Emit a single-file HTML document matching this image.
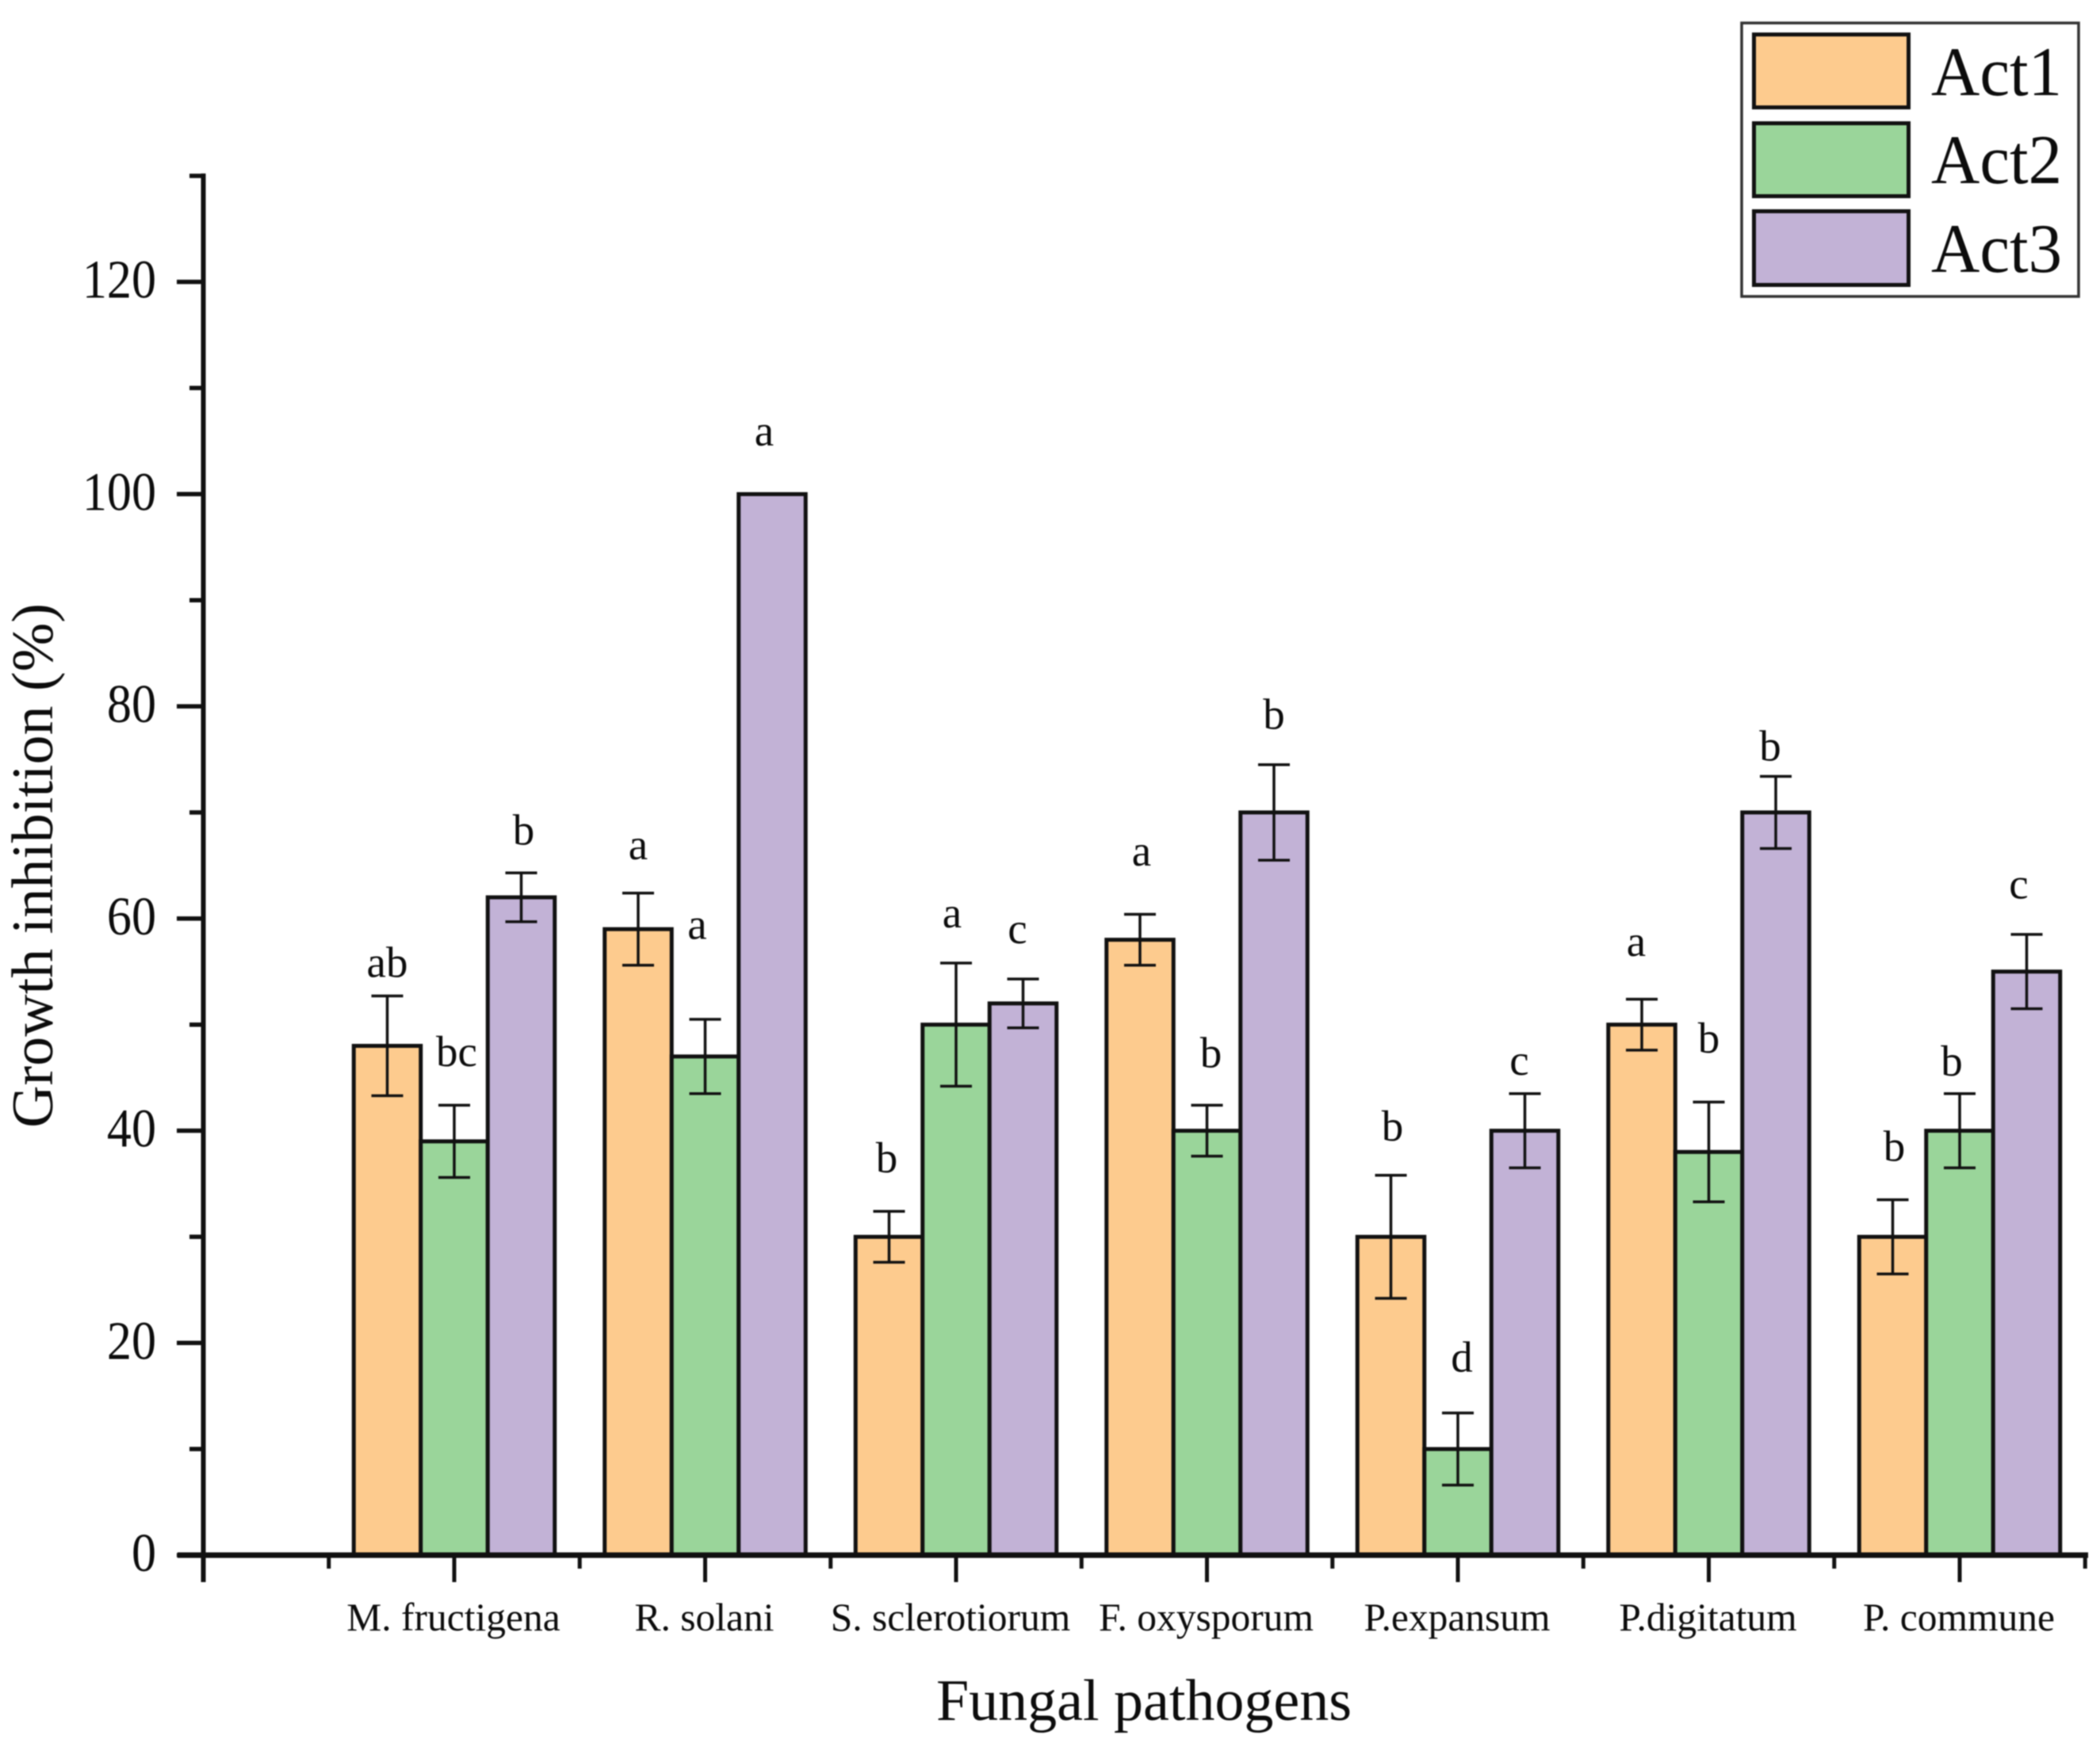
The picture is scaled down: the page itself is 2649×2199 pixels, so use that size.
<!DOCTYPE html>
<html lang="en">
<head>
<meta charset="utf-8">
<title>Growth inhibition of fungal pathogens</title>
<style>
html,body{margin:0;padding:0;background:#fff;width:2649px;height:2199px;overflow:hidden}
svg{display:block;font-family:"Liberation Serif",serif;fill:#0c0c0c;filter:blur(0.7px)}
</style>
</head>
<body>
<svg id="chart" xmlns="http://www.w3.org/2000/svg" width="2649" height="2199" viewBox="0 0 2649 2199">
  <rect width="2649" height="2199" fill="#fff"/>
  <g id="bars"></g>
  <g id="errors"></g>
  <g id="letters"></g>
  <g id="axes"></g>
  <text x="1443" y="2170" font-size="74" text-anchor="middle">Fungal pathogens</text>
  <text transform="translate(66,1092) rotate(-90)" font-size="74" text-anchor="middle">Growth inhibition (%)</text>
  <g>
    <rect x="2197" y="29" width="425" height="345" fill="#fff" stroke="#333" stroke-width="3.5"/>
    <rect x="2212.5" y="43.5" width="195" height="92" fill="#FDCB8E" stroke="#111" stroke-width="5"/>
    <rect x="2212.5" y="155.5" width="195" height="92" fill="#9AD59A" stroke="#111" stroke-width="5"/>
    <rect x="2212.5" y="266.5" width="195" height="93" fill="#C2B2D6" stroke="#111" stroke-width="5"/>
    <text transform="translate(2436,120) scale(0.965,1)" font-size="88">Act1</text>
    <text transform="translate(2436,231) scale(0.965,1)" font-size="88">Act2</text>
    <text transform="translate(2436,343) scale(0.965,1)" font-size="88">Act3</text>
  </g>
</svg>
<script>
const categories = ["M. fructigena", "R. solani", "S. sclerotiorum", "F. oxysporum", "P.expansum", "P.digitatum", "P. commune"];
const seriesNames = ["Act1", "Act2", "Act3"];
const act1Values = [48, 59, 30, 58, 30, 50, 30];
const act2Values = [39, 47, 50, 40, 10, 38, 40];
const act3Values = [62, 100, 52, 70, 40, 70, 55];
const act1Errors = [4.7, 3.4, 2.4, 2.4, 5.8, 2.4, 3.5];
const act2Errors = [3.4, 3.5, 5.8, 2.4, 3.4, 4.7, 3.5];
const act3Errors = [2.3, 0, 2.3, 4.5, 3.5, 3.4, 3.5];
const act1Letters = ["ab", "a", "b", "a", "b", "a", "b"];
const act2Letters = ["bc", "a", "a", "b", "d", "b", "b"];
const act3Letters = ["b", "a", "c", "b", "c", "b", "c"];
const act1LetterGaps = [2.9, 4.3, 4.8, 5.7, 4.4, 5.2, 4.8];
const act2LetterGaps = [4.8, 8.7, 4.5, 4.7, 5.0, 5.8, 2.8];
const act3LetterGaps = [3.8, 5.7, 4.5, 4.5, 2.9, 2.6, 4.5];
const yMajorTicks = [0, 20, 40, 60, 80, 100, 120];
const yMinorTicks = [10, 30, 50, 70, 90, 110, 130];
const xMinorTicks = [0.5, 1.5, 2.5, 3.5, 4.5, 5.5, 6.5, 7.5];

const NS = "http://www.w3.org/2000/svg";
const fills = ["#FDCB8E", "#9AD59A", "#C2B2D6"];
const allValues = [act1Values, act2Values, act3Values];
const allErrors = [act1Errors, act2Errors, act3Errors];
const allLetters = [act1Letters, act2Letters, act3Letters];
const allGaps = [act1LetterGaps, act2LetterGaps, act3LetterGaps];

/* horizontal nudges of the hand-placed letters, relative to their bar */
const letterNudge = [
  [0, 0, -3, 2, 2, -7, 2],
  [3, -10, -5, 5, 5, 0, -10],
  [3, -10, -7, 0, -7, -7, -10]
];

const yScale = v => 1962 - v * 13.386;
const xScale = c => 256.5 + c * 316.5;
const barWidth = 84.5;

function make(tag, parent, attrs, content) {
  const el = document.createElementNS(NS, tag);
  for (const k in attrs) el.setAttribute(k, attrs[k]);
  if (content !== undefined) el.textContent = content;
  parent.appendChild(el);
  return el;
}
const slug = s => s.toLowerCase().replace(/[^a-z]+/g, "-").replace(/-$/, "");

const barsG = document.getElementById("bars");
const errorsG = document.getElementById("errors");
const lettersG = document.getElementById("letters");
const axesG = document.getElementById("axes");

categories.forEach((cat, c) => {
  seriesNames.forEach((sname, s) => {
    const v = allValues[s][c];
    const err = allErrors[s][c];
    const cx = xScale(c + 1) + (s - 1) * barWidth;
    const top = yScale(v);

    const bar = make("rect", barsG, {x: cx - barWidth / 2, y: top, width: barWidth, height: yScale(0) - top, fill: fills[s], stroke: "#111", "stroke-width": 5});
    
    

    if (err > 0) {
      const eg = make("path", errorsG, {
        d: "M" + (cx - 20) + " " + yScale(v + err) + "H" + (cx + 20) +
           "M" + cx + " " + yScale(v + err) + "V" + yScale(v - err) +
           "M" + (cx - 20) + " " + yScale(v - err) + "H" + (cx + 20),
        fill: "none", stroke: "#111", "stroke-width": 3.5
      });
      
      
    }

    const lbl = make("text", lettersG, {x: cx + letterNudge[s][c], y: yScale(v + err + allGaps[s][c]) + 15, "font-size": 55, "text-anchor": "middle"}, allLetters[s][c]);
    
    
  });

  const tick = make("line", axesG, {x1: xScale(c + 1), x2: xScale(c + 1), y1: 1962, y2: 1996, stroke: "#111", "stroke-width": 5});
  
  

  const tl = make("text", axesG, {x: xScale(c + 1) - (c === 2 ? 7 : 1), y: 2057, "font-size": 49.5, "text-anchor": "middle"}, cat);
  
  
});

xMinorTicks.forEach(t => {
  const tick = make("line", axesG, {x1: xScale(t), x2: xScale(t), y1: 1962, y2: 1979, stroke: "#111", "stroke-width": 5});
  
  
});

yMajorTicks.forEach(t => {
  const tick = make("line", axesG, {x1: 223, x2: 256, y1: yScale(t), y2: yScale(t), stroke: "#111", "stroke-width": 5.5});
  
  

  const tl = make("text", axesG, {transform: "translate(197," + (yScale(t) + 20) + ") scale(0.9,1)", "font-size": 69, "text-anchor": "end"}, String(t));
  
  
});

yMinorTicks.forEach(t => {
  const tick = make("line", axesG, {x1: 239, x2: 256, y1: yScale(t), y2: yScale(t), stroke: "#111", "stroke-width": 5.5});
  
  
});

const yAxis = make("line", axesG, {x1: 256.5, x2: 256.5, y1: yScale(130) - 3, y2: 1996, stroke: "#111", "stroke-width": 6});



const xAxis = make("line", axesG, {x1: 224, x2: 2634, y1: 1962, y2: 1962, stroke: "#111", "stroke-width": 7});


</script>
</body>
</html>
